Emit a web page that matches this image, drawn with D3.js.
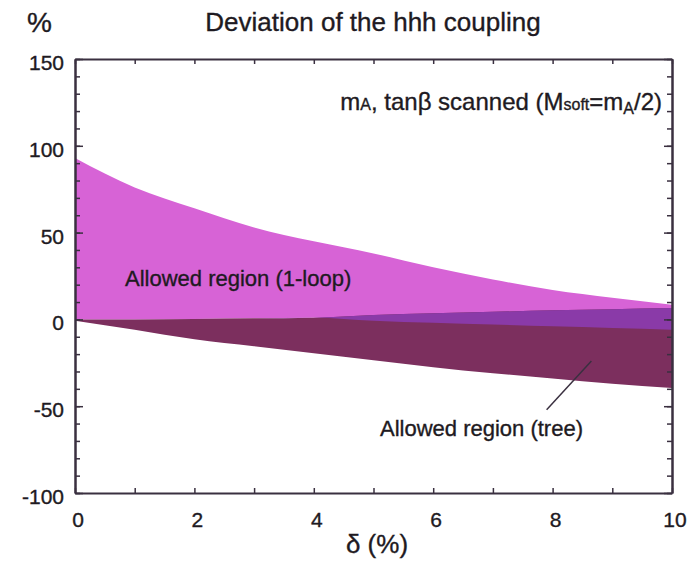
<!DOCTYPE html>
<meta charset="utf-8">
<style>
body { margin: 0; background: #fff; }
text { font-family: "Liberation Sans", Arial, sans-serif; fill: #1e1a22; stroke: #1e1a22; stroke-width: 0.35px; }
.axis path, .axis line { stroke: #3a3040; }
</style>
<svg width="693" height="563"></svg>
<script src="https://d3js.org/d3.v7.min.js"></script>
<script>

// delta (%) sample points and region boundaries (deviation in %)
var delta      = [0, 1, 2, 3, 4, 5, 6, 7, 8, 9, 10];
var loopUpper  = [93, 76, 64, 53, 45, 38, 30, 23, 17, 12.5, 8.5];
var loopLower  = [0, 0, 0.3, 0.6, 1, -0.8, -2, -3, -4, -5, -6];
var treeUpper  = [0, 0, 0.3, 0.6, 1, 2.6, 3.6, 4.4, 5.2, 5.9, 6.5];
var treeLower  = [-0.8, -6, -11.5, -15.5, -19.5, -23.5, -27.5, -31, -34, -37, -39.5];

var xTicks = [0, 2, 4, 6, 8, 10];
var yTicks = [-100, -50, 0, 50, 100, 150];

var svg = d3.select("svg");

var x = d3.scaleLinear().domain([0, 10]).range([75, 672]);
var y = d3.scaleLinear().domain([-100, 150]).range([493, 59]);

var rows = delta.map(function(d, i) {
  return {d: d, lu: loopUpper[i], ll: loopLower[i], tu: treeUpper[i], tl: treeLower[i]};
});

var area = function(lo, hi) {
  return d3.area()
      .x(function(r) { return x(r.d); })
      .y0(function(r) { return y(lo(r)); })
      .y1(function(r) { return y(hi(r)); })
      .curve(d3.curveMonotoneX);
};

// 1-loop region
svg.append("path")
    .datum(rows)
    .attr("fill", "#d763d6")
    .attr("d", area(function(r) { return r.ll; }, function(r) { return r.lu; }));

// tree region
svg.append("path")
    .datum(rows)
    .attr("fill", "#7c2f5e")
    .attr("d", area(function(r) { return r.tl; }, function(r) { return r.tu; }));

// where both overlap
svg.append("path")
    .datum(rows)
    .attr("fill", "#8a3aa8")
    .attr("d", area(function(r) { return r.ll; }, function(r) { return Math.max(r.ll, r.tu); }));

// axes, ticks pointing inward, mirrored on top/right
var minorX = d3.range(0, 11, 1), minorY = d3.range(-100, 151, 10);

function drawAxis(axis, tf) {
  var g = svg.append("g").attr("class", "axis").attr("transform", tf).call(axis);
  g.selectAll("text").remove();
  g.select(".domain").attr("stroke-width", 2);
  g.selectAll(".tick line").attr("stroke-width", 1.5);
  return g;
}

drawAxis(d3.axisBottom(x).tickValues(minorX).tickSize(-5).tickSizeOuter(0), "translate(0,493)");
drawAxis(d3.axisTop(x).tickValues(minorX).tickSize(-5).tickSizeOuter(0), "translate(0,59)");
drawAxis(d3.axisLeft(y).tickValues(minorY).tickSize(-5).tickSizeOuter(0), "translate(75,0)");
drawAxis(d3.axisRight(y).tickValues(minorY).tickSize(-5).tickSizeOuter(0), "translate(672,0)");
drawAxis(d3.axisLeft(y).tickValues(yTicks).tickSize(-8).tickSizeOuter(0), "translate(75,0)");
drawAxis(d3.axisRight(y).tickValues(yTicks).tickSize(-8).tickSizeOuter(0), "translate(672,0)");

// tick labels
svg.append("g").selectAll("text")
  .data(yTicks)
  .enter().append("text")
    .attr("x", 64)
    .attr("y", function(d) { return y(d) + 11; })
    .attr("text-anchor", "end")
    .style("font-size", "21px")
    .text(function(d) { return d; });

svg.append("g").selectAll("text")
  .data(xTicks)
  .enter().append("text")
    .attr("x", function(d) { return x(d) + 3; })
    .attr("y", 527)
    .attr("text-anchor", "middle")
    .style("font-size", "21px")
    .text(function(d) { return d; });

// titles
svg.append("text").attr("x", 27).attr("y", 32).style("font-size", "28px").text("%");
svg.append("text").attr("x", 373).attr("y", 31).attr("text-anchor", "middle")
    .style("font-size", "26px").text("Deviation of the hhh coupling");
svg.append("text").attr("x", 377).attr("y", 553).attr("text-anchor", "middle")
    .style("font-size", "26px").text("\u03b4 (%)");

var note = svg.append("text").attr("x", 662).attr("y", 110).attr("text-anchor", "end")
    .style("font-size", "24px");
note.append("tspan").text("m");
note.append("tspan").style("font-size", "16px").text("A");
note.append("tspan").text(", tan\u03b2 scanned (M");
note.append("tspan").style("font-size", "16px").text("soft");
note.append("tspan").text("=m");
note.append("tspan").style("font-size", "16px").attr("dy", 4).text("A");
note.append("tspan").attr("dy", -4).text("/2)");

svg.append("text").attr("x", 125).attr("y", 286).style("font-size", "22px")
    .text("Allowed region (1-loop)");
svg.append("text").attr("x", 380).attr("y", 436).style("font-size", "22px")
    .text("Allowed region (tree)");

svg.append("line")
    .attr("x1", x(8.65)).attr("y1", y(-24))
    .attr("x2", x(7.9)).attr("y2", y(-52))
    .attr("stroke", "#3a3040").attr("stroke-width", 1.5);

</script>
